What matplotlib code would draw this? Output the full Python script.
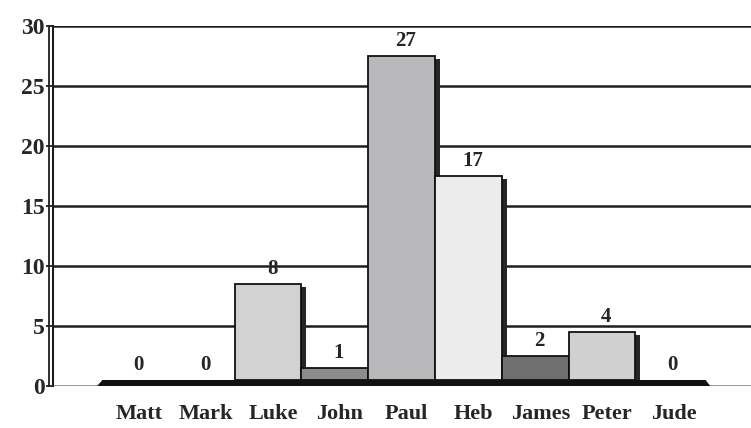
import matplotlib
matplotlib.use("Agg")
import matplotlib.pyplot as plt
from matplotlib.patches import Polygon
from matplotlib.transforms import ScaledTranslation

# Data
books = ["Matt", "Mark", "Luke", "John", "Paul", "Heb", "James", "Peter", "Jude"]
counts = [0, 0, 8, 1, 27, 17, 2, 4, 0]
bar_colors = ["#cfcfcf", "#cfcfcf", "#d2d2d2", "#8c8c8c", "#b9b9bb",
              "#ececec", "#6f6f6f", "#d0d0d0", "#cfcfcf"]
y_ticks = [0, 5, 10, 15, 20, 25, 30]

W, H, DPI = 751, 428, 100
fig = plt.figure(figsize=(W / DPI, H / DPI), dpi=DPI)
fig.patch.set_facecolor("white")

ax = fig.add_axes([53 / W, 42 / H, (W - 53) / W, 360 / H])
ax.set_xlim(-1.22, 9.23)
ax.set_ylim(0, 30)
ax.set_facecolor("white")

serif = ["Liberation Serif", "DejaVu Serif"]
text_color = "#262626"
floor_h = 0.5  # thickness of the black floor slab, in value units

# back-wall gridlines
for v in y_ticks[1:]:
    ax.axhline(v, color="#1e1e1e", lw=1.8, zorder=1)
ax.axhline(0, color="#8a8a8a", lw=1.2, zorder=1)

# floor slab
floor = Polygon([(-0.56, 0), (8.62, 0), (8.55, floor_h), (-0.48, floor_h)],
                closed=True, facecolor="#111111", edgecolor="none", zorder=40)
ax.add_patch(floor)

shadow_tr = ax.transData + ScaledTranslation(5 / DPI, -3 / DPI, fig.dpi_scale_trans)
label_tr = ax.transData + ScaledTranslation(4 / DPI, 5 / DPI, fig.dpi_scale_trans)

for i, (v, c) in enumerate(zip(counts, bar_colors)):
    if v > 0:
        ax.bar(i, v, bottom=floor_h, width=1.0, color="#262626",
               edgecolor="none", transform=shadow_tr, zorder=2 + 2 * i)
        ax.bar(i, v, bottom=floor_h, width=1.0, color=c,
               edgecolor="#111111", lw=1.3, zorder=3 + 2 * i)
    ax.text(i, v + floor_h, str(v), transform=label_tr, ha="center",
            va="bottom", fontsize=15, fontweight="bold", family=serif,
            color=text_color, zorder=50)

# axes styling
for s in ["top", "right", "bottom"]:
    ax.spines[s].set_visible(False)
ax.spines["left"].set_linewidth(1.5)
ax.spines["left"].set_color("#1e1e1e")
ax.axvline(-1.22 - 4 / 66.8, color="#1e1e1e", lw=1.3, clip_on=False, zorder=5)

ax.set_yticks(y_ticks)
ax.set_yticklabels([str(t) for t in y_ticks], fontsize=17, fontweight="bold",
                   family=serif, color=text_color)
ax.tick_params(axis="y", direction="out", length=5, width=1.3, pad=1,
               color="#1e1e1e")

ax.set_xticks(range(len(books)))
ax.set_xticklabels(books, fontsize=16, fontweight="bold", family=serif,
                   color=text_color)
ax.tick_params(axis="x", length=0, pad=13)
for lbl in ax.get_xticklabels():
    lbl.set_transform(lbl.get_transform() + ScaledTranslation(5 / DPI, 0, fig.dpi_scale_trans))

fig.savefig("out.png", dpi=DPI)
